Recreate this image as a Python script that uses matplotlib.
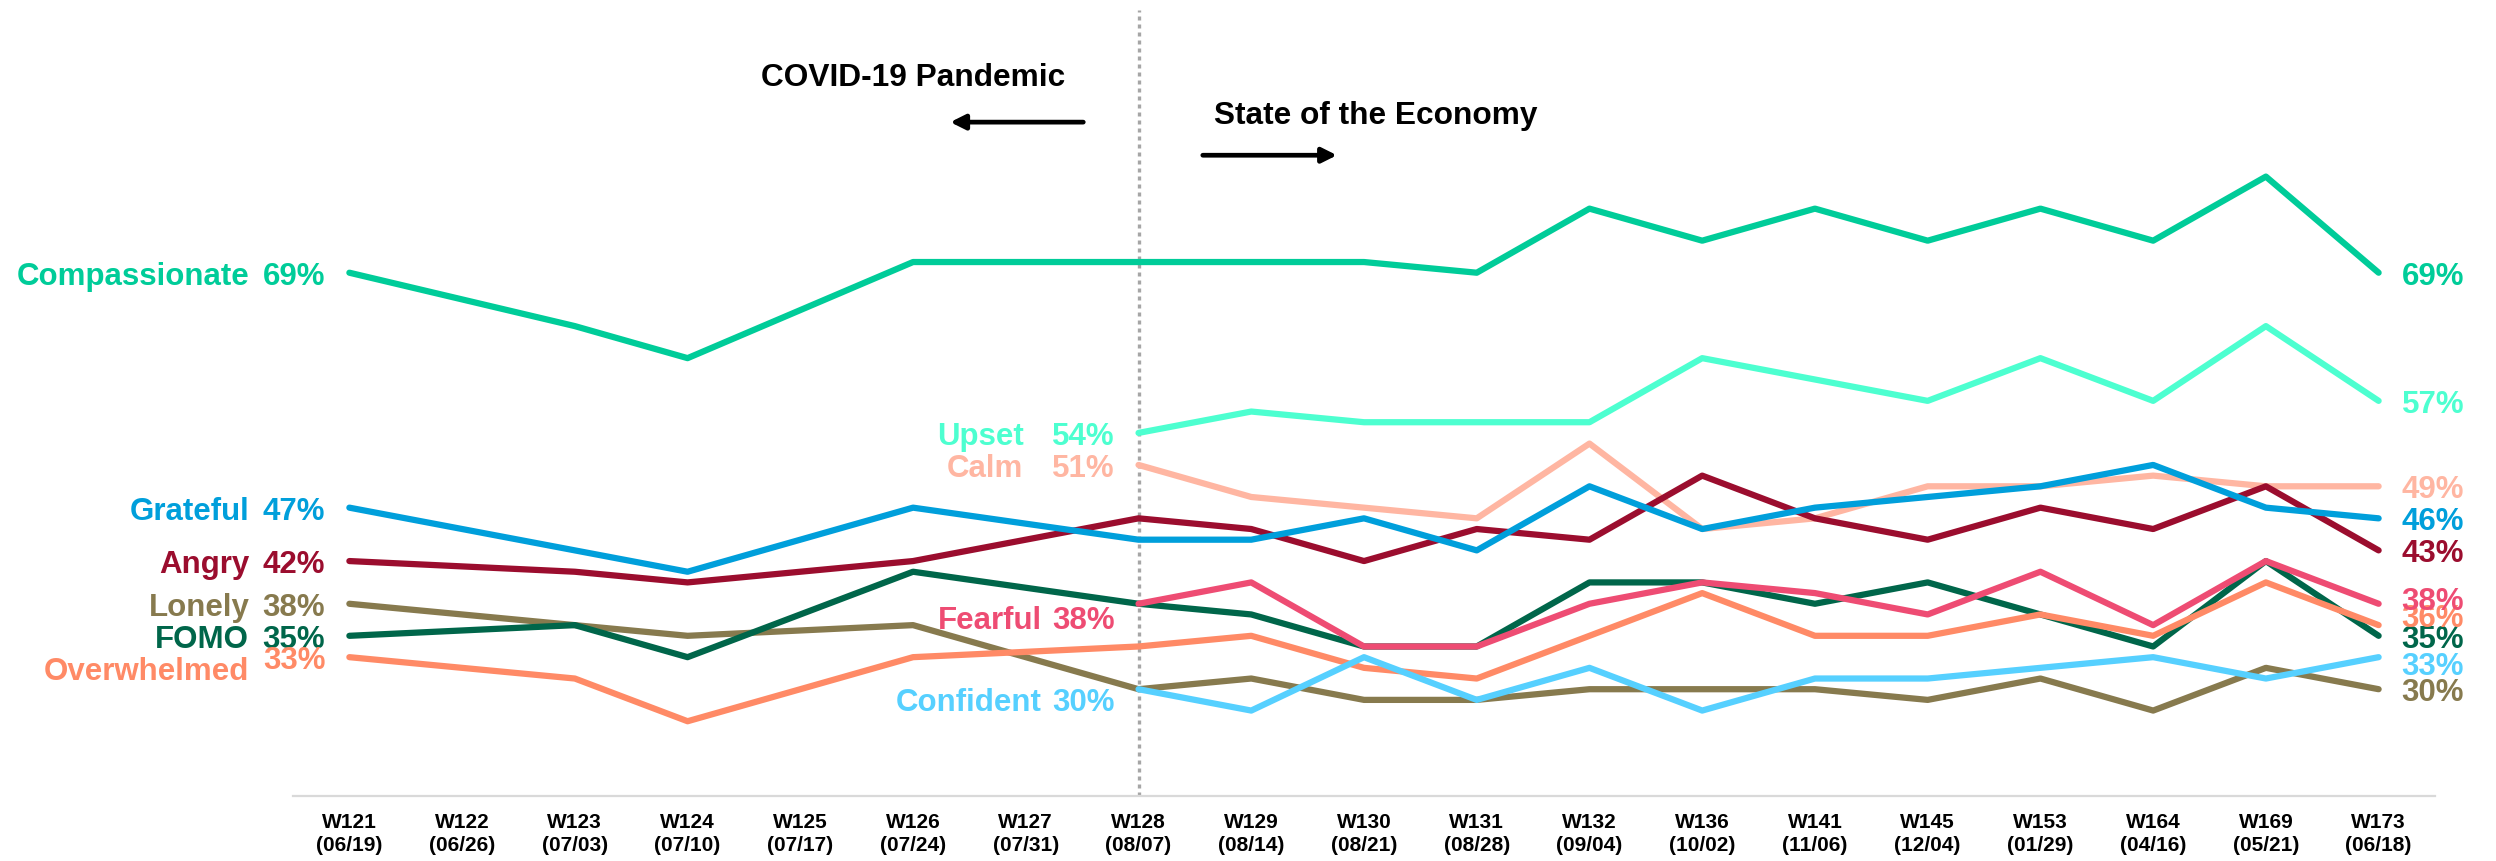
import matplotlib
matplotlib.use('Agg')
import matplotlib.pyplot as plt

plt.rcParams['font.family'] = ['Liberation Sans', 'DejaVu Sans']
plt.rcParams['font.weight'] = 'bold'

WEEKS = ['W121', 'W122', 'W123', 'W124', 'W125', 'W126', 'W127', 'W128', 'W129', 'W130',
         'W131', 'W132', 'W136', 'W141', 'W145', 'W153', 'W164', 'W169', 'W173']
DATES = ['06/19', '06/26', '07/03', '07/10', '07/17', '07/24', '07/31', '08/07', '08/14', '08/21',
         '08/28', '09/04', '10/02', '11/06', '12/04', '01/29', '04/16', '05/21', '06/18']

# None = emotion not asked that week (line is drawn straight across)
COMPASSIONATE = [69, None, 64, 61, None, 70, None, 70, 70, 70, 69, 75, 72, 75, 72, 75, 72, 78, 69]
UPSET = [None, None, None, None, None, None, None, 54, 56, 55, 55, 55, 61, 59, 57, 61, 57, 64, 57]
CALM = [None, None, None, None, None, None, None, 51, 48, 47, 46, 53, 45, 46, 49, 49, 50, 49, 49]
GRATEFUL = [47, None, 43, 41, None, 47, None, 44, 44, 46, 43, 49, 45, 47, 48, 49, 51, 47, 46]
ANGRY = [42, None, 41, 40, None, 42, None, 46, 45, 42, 45, 44, 50, 46, 44, 47, 45, 49, 43]
FOMO = [35, None, 36, 33, None, 41, None, 38, 37, 34, 34, 40, 40, 38, 40, 37, 34, 42, 35]
OVERWHELMED = [33, None, 31, 27, None, 33, None, 34, 35, 32, 31, 35, 39, 35, 35, 37, 35, 40, 36]
FEARFUL = [None, None, None, None, None, None, None, 38, 40, 34, 34, 38, 40, 39, 37, 41, 36, 42, 38]
LONELY = [38, None, 36, 35, None, 36, None, 30, 31, 29, 29, 30, 30, 30, 29, 31, 28, 32, 30]
CONFIDENT = [None, None, None, None, None, None, None, 30, 28, 33, 29, 32, 28, 31, 31, 32, 33, 31, 33]

SERIES = [
    ('Compassionate', COMPASSIONATE),
    ('Upset', UPSET),
    ('Calm', CALM),
    ('Angry', ANGRY),
    ('Grateful', GRATEFUL),
    ('Lonely', LONELY),
    ('FOMO', FOMO),
    ('Overwhelmed', OVERWHELMED),
    ('Fearful', FEARFUL),
    ('Confident', CONFIDENT),
]

COLORS = {
    'Compassionate': '#00CC99',
    'Upset': '#4DFFD0',
    'Calm': '#FFB6A2',
    'Grateful': '#009FDB',
    'Angry': '#9B0D2E',
    'Lonely': '#877A4E',
    'FOMO': '#00664A',
    'Overwhelmed': '#FF8A66',
    'Fearful': '#EE4C73',
    'Confident': '#56D0FF',
}

# label nudges in pixels: (name dx, name dy, pct dy) at start, dy at end
START_NUDGE = {
    'Upset': (-115, 0, 0),
    'Calm': (-115, 0, 0),
    'Fearful': (-97, -13, -13),
    'Confident': (-97, -10, -10),
    'Overwhelmed': (-100, -11, 0),
}
END_NUDGE = {'Fearful': 6, 'Overwhelmed': 10, 'Confident': -6}
BASE_DY = -4  # va='center' sits the digits a little high

DIVIDER = 7  # W128
LABEL_SIZE = 22.5


def valid_points(values):
    xs = [i for i, v in enumerate(values) if v is not None]
    return xs, [values[i] for i in xs]


def main():
    fig = plt.figure(figsize=(24.96, 8.61), dpi=100)
    ax = fig.add_axes([293 / 2496, 65 / 861, (2435 - 293) / 2496, (796 - 10) / 861])

    for name, values in SERIES:
        xs, ys = valid_points(values)
        c = COLORS[name]
        ax.plot(xs, ys, color=c, lw=4.5, solid_capstyle='round', zorder=3)

        name_dx, name_dy, pct_dy = START_NUDGE.get(name, (-100, 0, 0))
        ax.annotate(f'{ys[0]}%', (xs[0], ys[0]), xytext=(-24, pct_dy + BASE_DY),
                    textcoords='offset pixels', ha='right', va='center', color=c,
                    fontsize=LABEL_SIZE, fontweight='bold')
        ax.annotate(name, (xs[0], ys[0]), xytext=(name_dx, name_dy + BASE_DY),
                    textcoords='offset pixels', ha='right', va='center', color=c,
                    fontsize=LABEL_SIZE, fontweight='bold')
        ax.annotate(f'{ys[-1]}%', (xs[-1], ys[-1]), xytext=(23, END_NUDGE.get(name, 0) + BASE_DY),
                    textcoords='offset pixels', ha='left', va='center', color=c,
                    fontsize=LABEL_SIZE, fontweight='bold')

    ax.axvline(DIVIDER, color='#A6A6A6', lw=2.4, linestyle=(0, (1.2, 1.2)), zorder=2)

    ax.text(DIVIDER - 2.0, 87.2, 'COVID-19 Pandemic', ha='center', va='center',
            fontsize=22.8, fontweight='bold', color='black')
    ax.annotate('', xy=(DIVIDER - 1.67, 83.1), xytext=(DIVIDER - 0.49, 83.1),
                arrowprops=dict(arrowstyle='-|>', lw=3.4, color='black',
                                mutation_scale=22, shrinkA=0, shrinkB=0))
    ax.text(DIVIDER + 2.1, 83.7, 'State of the Economy', ha='center', va='center',
            fontsize=22.8, fontweight='bold', color='black')
    ax.annotate('', xy=(DIVIDER + 1.76, 80.0), xytext=(DIVIDER + 0.57, 80.0),
                arrowprops=dict(arrowstyle='-|>', lw=3.4, color='black',
                                mutation_scale=22, shrinkA=0, shrinkB=0))

    ax.set_xlim(-0.5, len(WEEKS) - 0.5)
    ax.set_ylim(20, 93.6)
    ax.set_xticks(range(len(WEEKS)))
    ax.set_xticklabels([f'{w}\n({d})' for w, d in zip(WEEKS, DATES)],
                       fontsize=15, fontweight='bold', linespacing=1.3)
    ax.tick_params(axis='x', length=0, pad=12)
    ax.set_yticks([])
    for side in ('top', 'left', 'right'):
        ax.spines[side].set_visible(False)
    ax.spines['bottom'].set_color('#D9D9D9')
    ax.spines['bottom'].set_linewidth(1.6)

    fig.savefig('out.png', dpi=100)
    plt.close(fig)


if __name__ == '__main__':
    main()
